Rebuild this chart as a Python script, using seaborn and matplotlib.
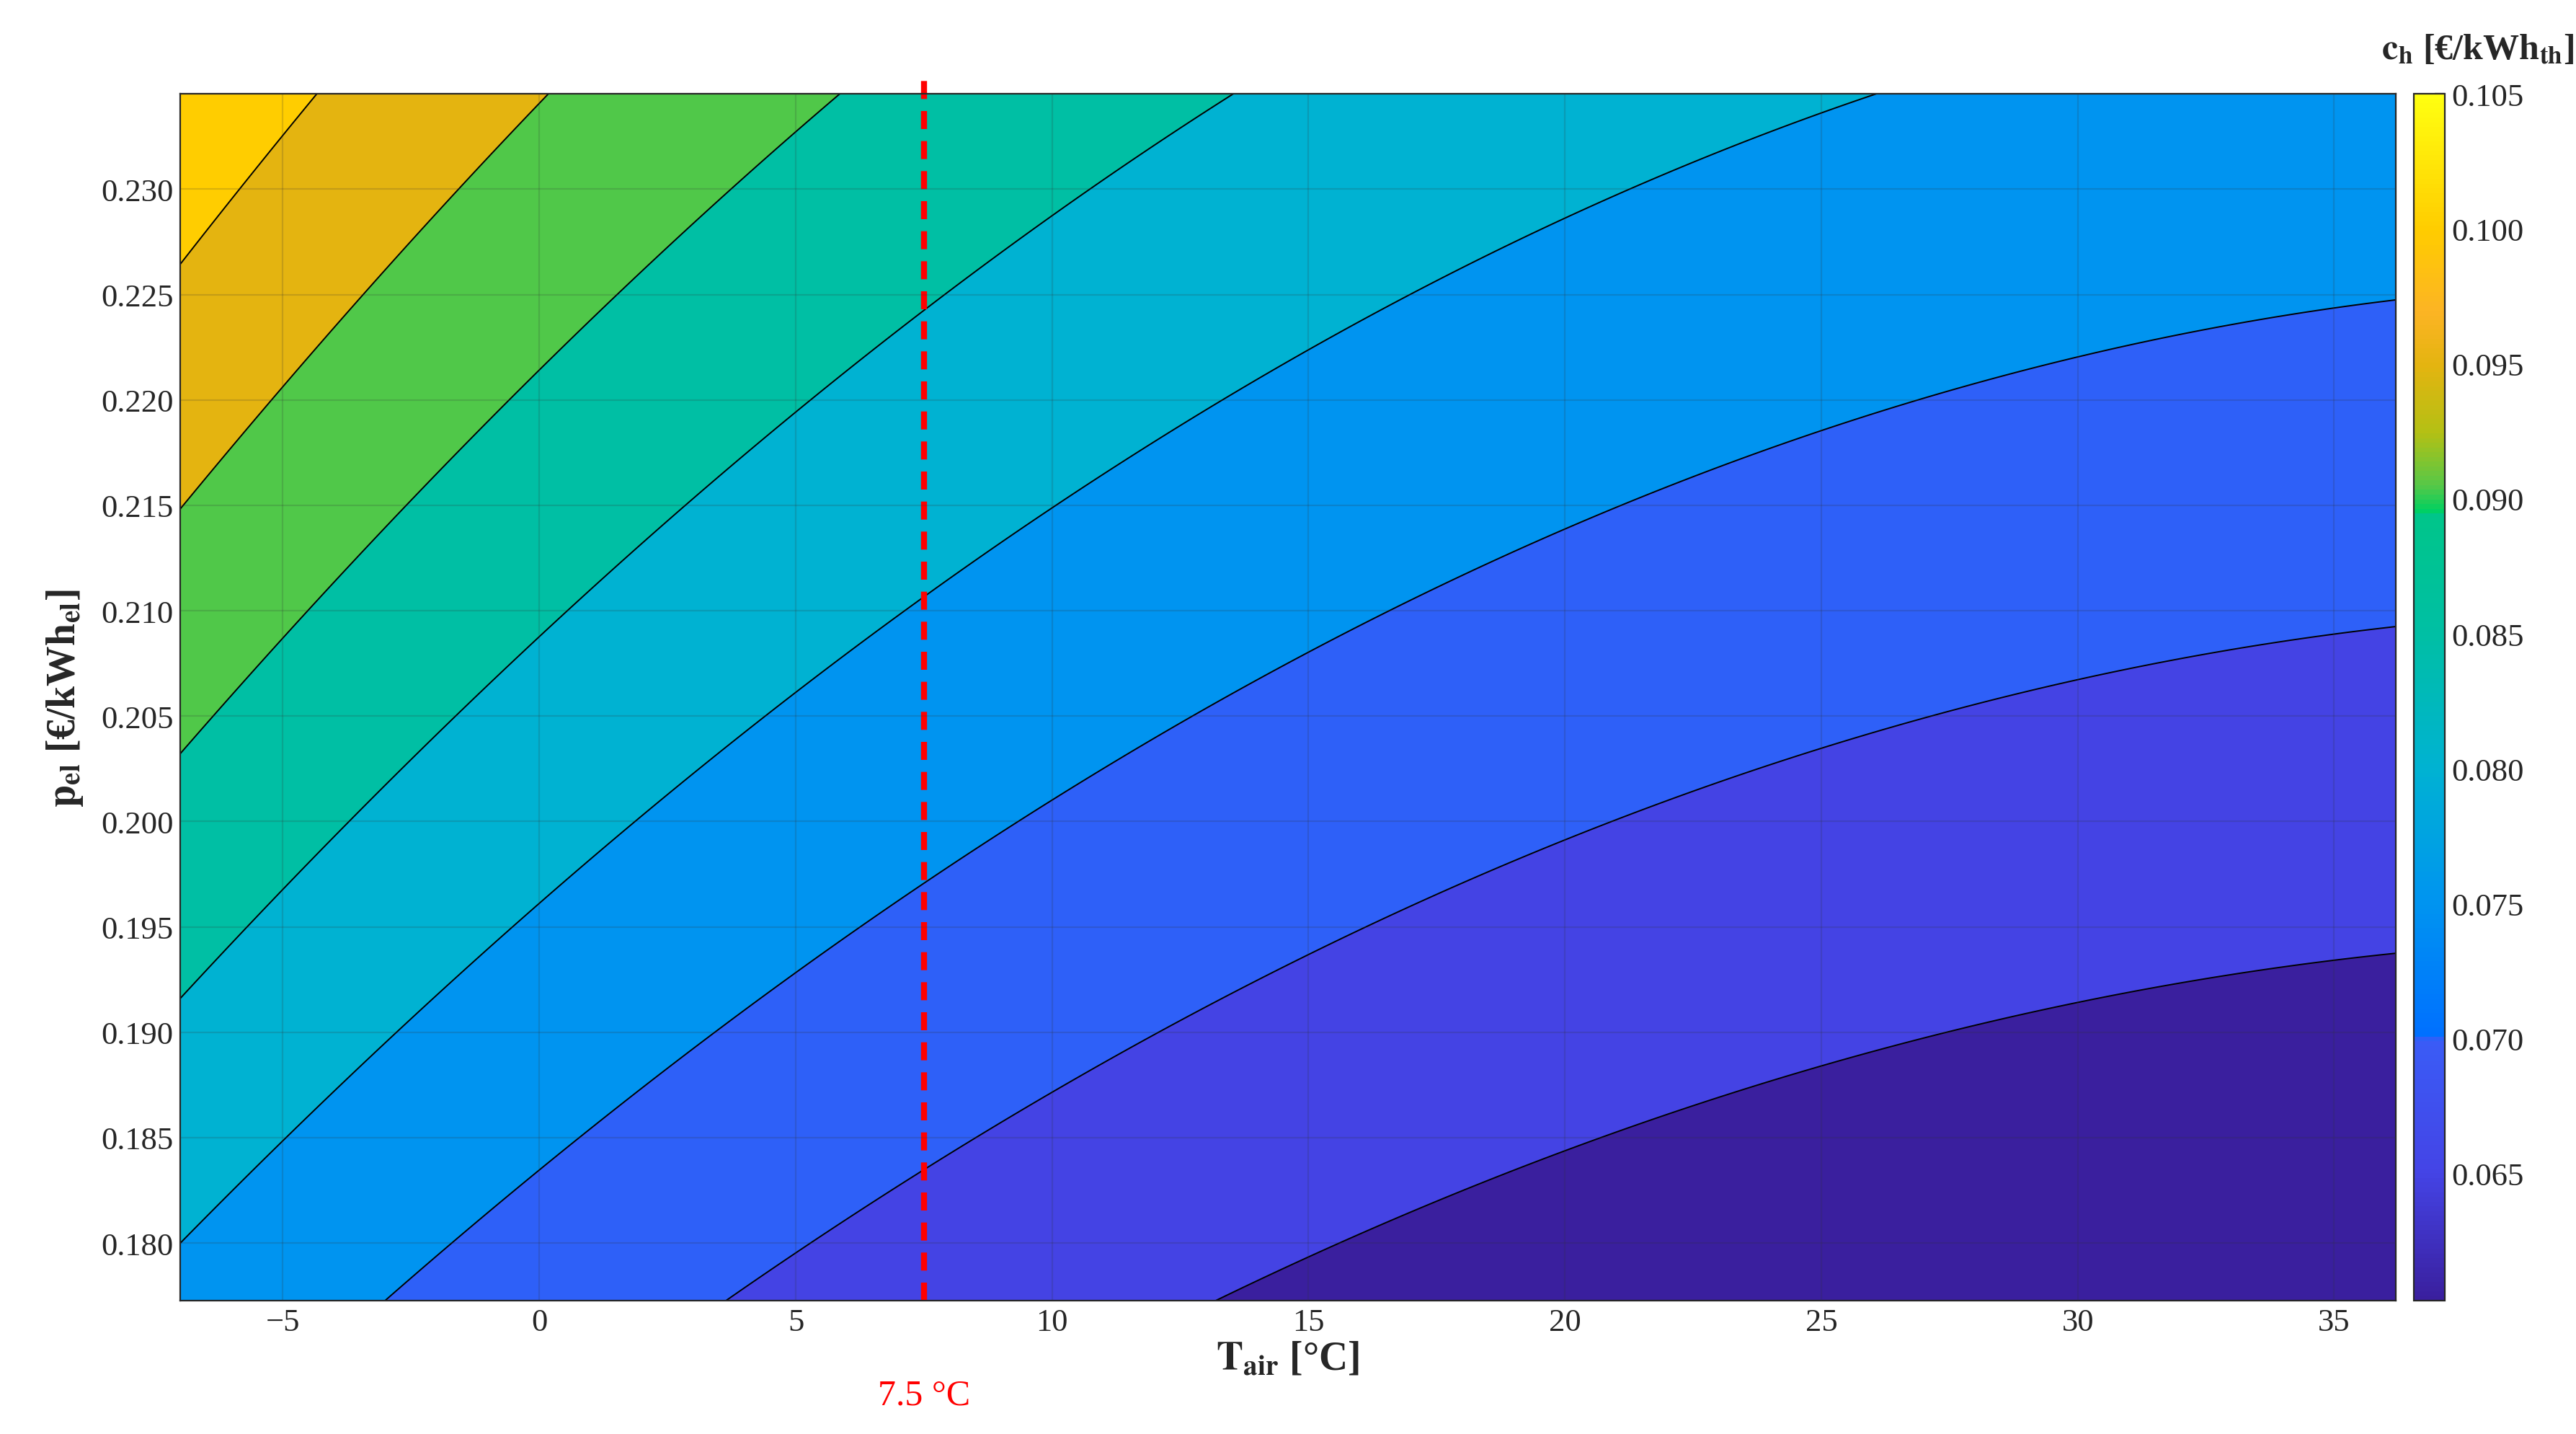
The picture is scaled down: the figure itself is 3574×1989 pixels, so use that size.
import numpy as np
import matplotlib
matplotlib.use("Agg")
import matplotlib.pyplot as plt
import seaborn as sns
from matplotlib.colors import LinearSegmentedColormap, Normalize
from matplotlib.cm import ScalarMappable

sns.set_style("white")
plt.rcParams['font.family'] = ['Liberation Serif', 'DejaVu Serif']
plt.rcParams['mathtext.fontset'] = 'stix'

# COP at several air temperatures
T_nodes = [-7.0, -1.3, 4.5, 7.5, 12.0, 20.0, 25.0, 31.0, 36.0]
COP_nodes = [2.36, 2.47, 2.62, 2.69, 2.82, 2.98, 3.04, 3.08, 3.07]
# contour boundaries and band colour values
levels = [0.0, 0.0625, 0.0675, 0.0725, 0.0775, 0.0825, 0.0875, 0.0925, 0.0975, 1.0]
band_vals = [0.0603, 0.065, 0.070, 0.075, 0.080, 0.085, 0.0905, 0.095, 0.100]
cb_ticks = [0.065, 0.070, 0.075, 0.080, 0.085, 0.090, 0.095, 0.100, 0.105]
y_ticks = [0.180, 0.185, 0.190, 0.195, 0.200, 0.205, 0.210, 0.215, 0.220, 0.225, 0.230]
x_ticks = [-5, 0, 5, 10, 15, 20, 25, 30, 35]
T_mark = 7.5

vmin, vmax = 0.0603, 0.105
anchors = [(0.0603, '#3a1f9e'), (0.065, '#4444e6'), (0.0699, '#3a5cf6'), (0.0701, '#0070ff'),
           (0.075, '#0094f0'), (0.080, '#00b2d2'), (0.085, '#00bfa4'), (0.0894, '#00c58a'),
           (0.0896, '#00d060'), (0.0905, '#55c848'), (0.0925, '#b4c014'), (0.095, '#e4b410'),
           (0.097, '#fcb424'), (0.100, '#ffcc00'), (0.105, '#ffff10')]
cmap = LinearSegmentedColormap.from_list(
    'pc', [((v - vmin) / (vmax - vmin), c) for v, c in anchors])
norm = Normalize(vmin, vmax)

coef = np.polyfit(T_nodes, COP_nodes, 2)
T = np.linspace(-7, 36.2, 400)
P = np.linspace(0.1772, 0.2346, 400)
TT, PP = np.meshgrid(T, P)
C = PP / np.polyval(coef, TT)

fig = plt.figure(figsize=(17.87, 9.95), dpi=200)
ax = fig.add_axes([0.070, 0.093, 0.860, 0.841])
cax = fig.add_axes([0.937, 0.093, 0.012, 0.841])

colors = [cmap(norm(v)) for v in band_vals]
ax.contourf(TT, PP, C, levels=levels, colors=colors)
ax.contour(TT, PP, C, levels=levels[1:-1], colors='black', linewidths=0.7)
ax.set_xlim(-7, 36.2)
ax.set_ylim(0.17727, 0.23452)
ax.set_xticks(x_ticks)
ax.set_yticks(y_ticks)
ax.set_yticklabels([f"{v:.3f}" for v in y_ticks])
ax.grid(True, color='#333333', alpha=0.18, linewidth=0.8)
ax.set_axisbelow(False)
ax.tick_params(direction='in', labelsize=16, length=5)
for s in ax.spines.values():
    s.set_linewidth(0.8)
ax.axvline(T_mark, ymin=0, ymax=1.02, color='red', linestyle=(0, (3, 2)), linewidth=3, clip_on=False)
ax.text(T_mark, 0.17727 - 0.0045, f"{T_mark} °C", color='red', fontsize=18, ha='center', va='center')
ax.set_xlabel(r"$\mathbf{T_{air}}$ [°C]", fontsize=20, fontweight='bold', labelpad=2)
ax.set_ylabel(r"$\mathbf{p_{el}}$ [€/kWh$_{\mathbf{el}}$]", fontsize=20, fontweight='bold', labelpad=8)

cb = fig.colorbar(ScalarMappable(norm=norm, cmap=cmap), cax=cax, ticks=cb_ticks)
cb.ax.set_yticklabels([f"{v:.3f}" for v in cb_ticks])
cb.ax.tick_params(labelsize=16, direction='in', length=5)
cb.outline.set_linewidth(0.8)
fig.text(0.962, 0.965, r"$\mathbf{c_h}$ [€/kWh$_{\mathbf{th}}$]", fontsize=18, fontweight='bold',
         ha='center', va='center')

fig.savefig("out.png", dpi=200, facecolor='white')
